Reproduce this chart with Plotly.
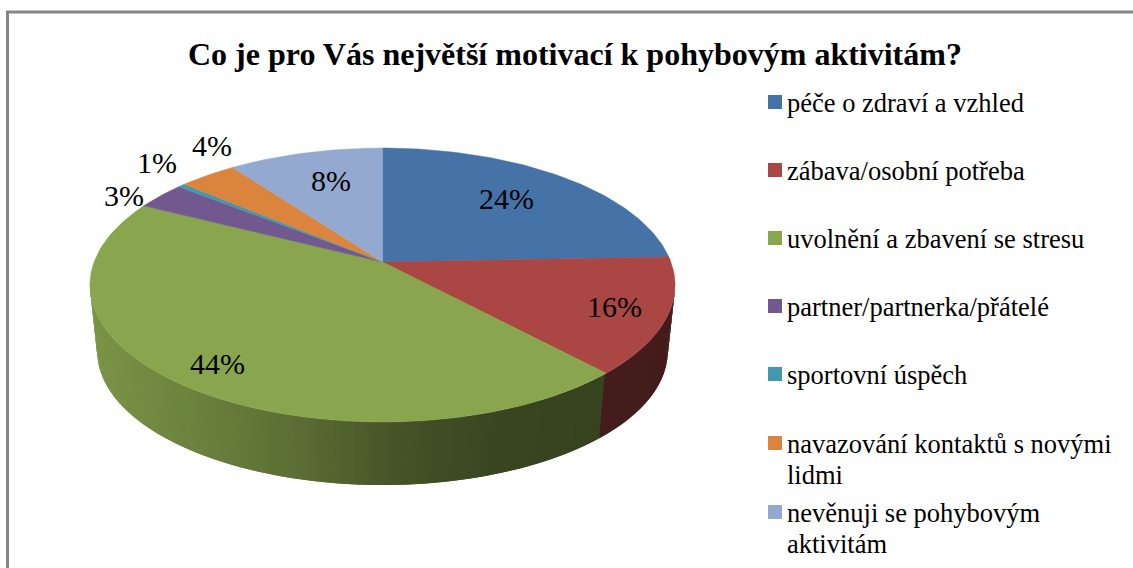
import math
import plotly.graph_objects as go

TITLE = "Co je pro Vás největší motivací k pohybovým aktivitám?"
categories = ["péče o zdraví a vzhled", "zábava/osobní potřeba", "uvolnění a zbavení se stresu",
              "partner/partnerka/přátelé", "sportovní úspěch",
              "navazování kontaktů s novými<br>lidmi", "nevěnuji se pohybovým<br>aktivitám"]
# printed labels
percent_labels = [24, 16, 44, 3, 1, 4, 8]
# slice sizes as drawn in the picture (%)
slice_shares = [24.4, 13.7, 44.4, 3.25, 0.45, 3.75, 10.05]
colors = ["#4572A7", "#AA4643", "#89A54E", "#71588F", "#4198AF", "#DB843D", "#93A9CF"]

# projection of the tilted disc
CX, CY, A, B, K = 382.5, 262.0, 288.4, 133.1, 0.168
SCALE_LOW, DROP = 0.975, 67.0
FONT = "Liberation Serif"


def project(theta, r=1.0, low=False):
    u, v = r * math.cos(theta), r * math.sin(theta)
    w = 1 + K * v
    x, y = A * u / w, -B * v / w
    if low:
        return CX + SCALE_LOW * x, CY + DROP + SCALE_LOW * y
    return CX + x, CY + y


def rgb(c, f=1.0):
    return "rgb(%d,%d,%d)" % tuple(round(int(c[i:i + 2], 16) * f) for i in (1, 3, 5))


def shade(x):
    stops = [(90, .90), (200, .78), (300, .66), (400, .50), (500, .42), (600, .40), (700, .40)]
    for (x0, f0), (x1, f1) in zip(stops, stops[1:]):
        if x <= x1:
            return f0 + (f1 - f0) * (max(x, x0) - x0) / (x1 - x0)
    return stops[-1][1]


fig = go.Figure()

# slice boundaries, clockwise from twelve o'clock
edges = [0.0]
for s in slice_shares:
    edges.append(edges[-1] + s)
total = edges[-1]
ang = lambda p: math.pi / 2 - 2 * math.pi * p / total

# visible side wall; each strip runs under the next one so no seams show
vis_start = math.asin(-K)            # right silhouette
vis_end = -math.pi - vis_start       # left silhouette
STEPS = 140
for n in range(STEPS):
    t0 = vis_start + (vis_end - vis_start) * n / STEPS
    t1 = vis_start + (vis_end - vis_start) * (n + 1) / STEPS
    t2 = vis_start + (vis_end - vis_start) * min(n + 2, STEPS) / STEPS
    tm = (t0 + t1) / 2
    p = ((math.pi / 2 - tm) / (2 * math.pi) * total) % total
    idx = next(i for i in range(len(slice_shares)) if p <= edges[i + 1])
    pts = [project(t0), project(t2), project(t2, low=True), project(t0, low=True)]
    mid = (project(tm)[0] + project(tm, low=True)[0]) / 2
    fig.add_trace(go.Scatter(x=[q[0] for q in pts], y=[q[1] for q in pts], mode="lines", fill="toself",
                             fillcolor=rgb(colors[idx], shade(mid)), line=dict(width=0),
                             hoverinfo="skip", showlegend=False))

# top surface
for i, c in enumerate(colors):
    n = max(2, int(slice_shares[i] * 3))
    rim = [project(ang(edges[i] + (edges[i + 1] - edges[i]) * j / n)) for j in range(n + 1)]
    xs = [CX] + [q[0] for q in rim] + [CX]
    ys = [CY] + [q[1] for q in rim] + [CY]
    fig.add_trace(go.Scatter(x=xs, y=ys, mode="lines", fill="toself", fillcolor=c,
                             line=dict(color=c, width=0.5), name=categories[i].replace("<br>", " "),
                             hoverinfo="name", showlegend=False))

# percentage labels: radial factor per slice plus a small nudge
label_r = [0.66, 0.80, 0.80, 1.12, 1.20, 1.18, 0.72]
label_nudge = [(2, -5), (7, 2), (-9, 6), (-12, 7), (11, -9), (32, -16), (6, 0)]
for i, v in enumerate(percent_labels):
    x, y = project(ang((edges[i] + edges[i + 1]) / 2), label_r[i])
    fig.add_annotation(x=x + label_nudge[i][0], y=y + label_nudge[i][1], text=f"{v}%", showarrow=False,
                       font=dict(family=FONT, size=30, color="black"))

# legend
legend_y = [103, 171, 239, 307, 375, 444, 513]
LEG_X = 785
fig.add_trace(go.Scatter(x=[LEG_X - 10] * len(colors), y=[v - 1 for v in legend_y], mode="markers",
                         marker=dict(symbol="square", size=14, color=colors, line=dict(width=0)),
                         hoverinfo="skip", showlegend=False))
for y0, name in zip(legend_y, categories):
    for k, line in enumerate(name.split("<br>")):
        fig.add_annotation(x=LEG_X, y=y0 + k * 31, text=line, showarrow=False, xanchor="left",
                           font=dict(family=FONT, size=26.5, color="black"))

fig.add_annotation(x=574.5, y=54, text=f"<b>{TITLE}</b>", showarrow=False,
                   font=dict(family=FONT, size=32, color="black"))

fig.add_shape(type="rect", x0=7.5, y0=12, x1=1150, y1=600, line=dict(color="#868686", width=3), layer="below")

fig.update_xaxes(range=[0, 1133], visible=False, fixedrange=True)
fig.update_yaxes(range=[568, 0], visible=False, fixedrange=True)
fig.update_layout(width=1133, height=568, margin=dict(l=0, r=0, t=0, b=0), paper_bgcolor="white",
                  plot_bgcolor="white", showlegend=False)
fig.write_html("out.html", post_script="document.body.style.margin='0';",
               config={"displayModeBar": False})
